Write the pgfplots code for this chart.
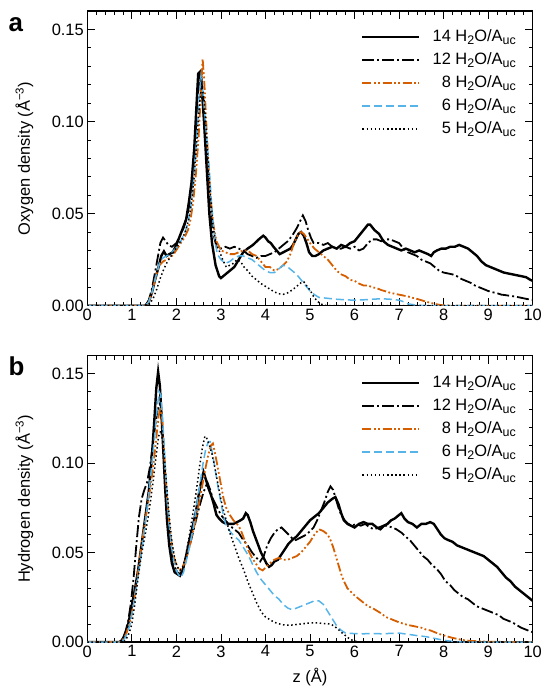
\documentclass[border=0pt]{standalone}
\usepackage{fontspec}
\setmainfont{Liberation Sans}
\usepackage{pgfplots}
\pgfplotsset{compat=1.18}
\definecolor{vermil}{RGB}{213,94,0}
\definecolor{skyb}{RGB}{86,180,233}

\newcommand{\sub}[1]{\raisebox{-3.8bp}{\fontsize{12.5}{12}\selectfont #1}}
\newcommand{\lbl}[1]{#1 H\sub{2}O/A\sub{uc}}
\newcommand{\fnt}{\fontsize{16.5}{19}\selectfont}

\pgfplotsset{
  dens/.style={
    scale only axis, width=445.4bp,
    xmin=0, xmax=10, ymin=0, ymax=0.16,
    xtick={0,...,10}, ytick={0,0.05,0.1,0.15},
    minor x tick num=4, minor y tick num=4,
    tick align=inside, major tick length=8bp, minor tick length=4bp,
    tick style={black, line width=0.8bp},
    axis line style={line width=1.3bp},
    scaled y ticks=false,
    /pgf/number format/assume math mode=true,
    y tick label style={/pgf/number format/fixed, /pgf/number format/fixed zerofill, /pgf/number format/precision=2},
    tick label style={font=\fnt},
    every axis y label/.style={at={(axis description cs:-0.1414,0.5)}, rotate=90, anchor=center, font=\fnt},
    every axis x label/.style={at={(axis description cs:0.5,-0.122)}, anchor=center, font=\fnt},
    legend cell align=right,
    legend style={draw=none, fill=none, anchor=north east, inner sep=0pt,
      font=\fnt, row sep=5bp, column sep=11bp,
      nodes={inner sep=1bp, text height=12bp, text depth=4bp}},
    legend image code/.code={\draw[#1] (0bp,0bp) -- (57bp,0bp);},
    c14/.style={black, line width=2.4bp},
    c12/.style={black, line width=1.8bp, dash pattern=on 12bp off 3bp on 2bp off 3bp},
    c8/.style={vermil, line width=1.8bp, dash pattern=on 9bp off 2.5bp on 1.8bp off 2.5bp on 1.8bp off 2.5bp},
    c6/.style={skyb, line width=1.5bp, dash pattern=on 8bp off 4bp},
    c5/.style={black, line width=1.5bp, dash pattern=on 1.5bp off 2.6bp},
  }
}

\begin{document}
\begin{tikzpicture}
\path[use as bounding box] (0,0) rectangle (543bp,-686bp);

% panel a: oxygen
\begin{axis}[dens, at={(87.3bp,-305.7bp)}, anchor=south west, height=294.7bp,
  ylabel={Oxygen density (Å\textsuperscript{−3})},
  legend style={at={(axis description cs:0.9647,0.94282)}}]
\addplot[c14] coordinates {
(0,0) (1.30,0) (1.38,0.002) (1.45,0.007) (1.52,0.014) (1.60,0.021) (1.66,0.027) (1.72,0.0295)
(1.78,0.027) (1.84,0.028) (1.92,0.029) (2.00,0.033) (2.08,0.038) (2.16,0.043) (2.22,0.047)
(2.28,0.056) (2.34,0.067) (2.40,0.085) (2.45,0.108) (2.49,0.126) (2.53,0.127) (2.57,0.118)
(2.62,0.100) (2.68,0.075) (2.74,0.050) (2.80,0.034) (2.88,0.022) (2.96,0.016) (3.00,0.015)
(3.10,0.017) (3.20,0.019) (3.30,0.021) (3.40,0.025) (3.50,0.029) (3.60,0.031) (3.72,0.033)
(3.85,0.036) (3.95,0.038) (4.00,0.037) (4.06,0.035) (4.12,0.034) (4.18,0.032) (4.25,0.030)
(4.32,0.028) (4.40,0.029) (4.48,0.030) (4.56,0.031) (4.62,0.033) (4.68,0.036) (4.74,0.039)
(4.80,0.040) (4.86,0.038) (4.92,0.034) (4.98,0.029) (5.05,0.027) (5.12,0.027) (5.20,0.028)
(5.30,0.030) (5.40,0.031) (5.50,0.032) (5.60,0.031) (5.70,0.033) (5.80,0.032) (5.90,0.034)
(6.00,0.035) (6.10,0.038) (6.20,0.041) (6.30,0.044) (6.35,0.044) (6.45,0.041) (6.55,0.039)
(6.65,0.035) (6.75,0.033) (6.85,0.032) (6.95,0.031) (7.05,0.030) (7.15,0.031) (7.25,0.030)
(7.35,0.029) (7.45,0.030) (7.55,0.029) (7.65,0.028) (7.72,0.027) (7.78,0.029) (7.85,0.030)
(7.95,0.031) (8.05,0.031) (8.15,0.032) (8.25,0.032) (8.35,0.033) (8.45,0.032) (8.55,0.031)
(8.65,0.029) (8.75,0.027) (8.85,0.024) (8.95,0.022) (9.05,0.021) (9.15,0.020) (9.25,0.019)
(9.35,0.018) (9.45,0.0175) (9.55,0.017) (9.65,0.0165) (9.75,0.016) (9.85,0.0155) (9.95,0.014)
(10.00,0.0135)
};
\addplot[c12] coordinates {
(0,0) (1.30,0) (1.38,0.003) (1.45,0.009) (1.52,0.018) (1.58,0.026) (1.64,0.034) (1.70,0.037)
(1.76,0.035) (1.82,0.033) (1.90,0.032) (2.00,0.034) (2.08,0.038) (2.16,0.042) (2.24,0.048)
(2.30,0.056) (2.36,0.068) (2.42,0.088) (2.47,0.110) (2.52,0.124) (2.56,0.125) (2.60,0.115)
(2.64,0.100) (2.68,0.085) (2.72,0.070) (2.76,0.055) (2.82,0.040) (2.90,0.032) (3.00,0.031)
(3.10,0.032) (3.20,0.031) (3.30,0.032) (3.40,0.031) (3.50,0.030) (3.60,0.028) (3.70,0.027)
(3.80,0.026) (3.90,0.027) (4.00,0.027) (4.10,0.028) (4.20,0.029) (4.30,0.031) (4.40,0.033)
(4.50,0.035) (4.60,0.038) (4.70,0.042) (4.78,0.046) (4.84,0.049) (4.90,0.046) (4.96,0.041)
(5.02,0.037) (5.08,0.034) (5.20,0.034) (5.30,0.033) (5.40,0.034) (5.50,0.032) (5.60,0.031)
(5.70,0.031) (5.80,0.032) (5.90,0.031) (6.00,0.032) (6.10,0.030) (6.20,0.031) (6.30,0.034)
(6.40,0.036) (6.50,0.036) (6.60,0.035) (6.70,0.036) (6.80,0.036) (6.90,0.035) (7.00,0.034)
(7.10,0.031) (7.20,0.029) (7.30,0.028) (7.40,0.027) (7.50,0.025) (7.60,0.024) (7.70,0.023)
(7.80,0.021) (7.90,0.019) (8.00,0.018) (8.10,0.0175) (8.20,0.017) (8.30,0.016) (8.40,0.0145)
(8.50,0.0135) (8.60,0.0125) (8.70,0.011) (8.80,0.010) (8.90,0.009) (9.00,0.008) (9.10,0.0073)
(9.20,0.0068) (9.30,0.006) (9.40,0.0057) (9.50,0.0053) (9.60,0.005) (9.70,0.0045) (9.80,0.004)
(9.90,0.0035) (10.00,0.0032)
};
\addplot[c8] coordinates {
(0,0) (1.30,0) (1.38,0.002) (1.46,0.008) (1.54,0.016) (1.62,0.022) (1.70,0.024) (1.78,0.025)
(1.86,0.026) (1.94,0.028) (2.02,0.031) (2.10,0.034) (2.18,0.037) (2.26,0.041) (2.32,0.047)
(2.38,0.057) (2.44,0.072) (2.50,0.092) (2.55,0.115) (2.59,0.134) (2.63,0.120) (2.67,0.100)
(2.72,0.077) (2.77,0.058) (2.83,0.044) (2.90,0.035) (3.00,0.030) (3.10,0.029) (3.20,0.028)
(3.30,0.028) (3.40,0.029) (3.50,0.030) (3.60,0.030) (3.70,0.028) (3.80,0.027) (3.90,0.024)
(4.00,0.021) (4.10,0.021) (4.20,0.019) (4.30,0.020) (4.40,0.022) (4.48,0.024) (4.56,0.028)
(4.64,0.034) (4.72,0.038) (4.80,0.040) (4.86,0.039) (4.92,0.037) (5.00,0.034) (5.10,0.031)
(5.20,0.029) (5.30,0.027) (5.40,0.025) (5.50,0.022) (5.60,0.019) (5.70,0.017) (5.80,0.016)
(5.90,0.014) (6.00,0.0135) (6.10,0.012) (6.20,0.011) (6.30,0.011) (6.40,0.010) (6.50,0.0095)
(6.60,0.0085) (6.70,0.0078) (6.80,0.007) (6.90,0.0065) (7.00,0.006) (7.10,0.0055) (7.20,0.005)
(7.30,0.0043) (7.40,0.0037) (7.50,0.003) (7.60,0.0022) (7.70,0.0016) (7.80,0.001) (7.90,0.0005)
(8.00,0.0002) (8.20,0) (10,0)
};
\addplot[c6] coordinates {
(0,0) (1.30,0) (1.38,0.002) (1.46,0.008) (1.54,0.016) (1.62,0.023) (1.70,0.026) (1.78,0.027)
(1.86,0.028) (1.94,0.030) (2.02,0.032) (2.10,0.035) (2.18,0.039) (2.26,0.045) (2.32,0.053)
(2.38,0.066) (2.44,0.085) (2.50,0.108) (2.55,0.124) (2.60,0.115) (2.65,0.100) (2.70,0.085)
(2.75,0.070) (2.80,0.052) (2.86,0.036) (2.92,0.028) (3.00,0.025) (3.10,0.023) (3.20,0.024)
(3.30,0.026) (3.40,0.027) (3.50,0.027) (3.60,0.026) (3.70,0.025) (3.80,0.023) (3.90,0.021)
(4.00,0.019) (4.10,0.018) (4.20,0.018) (4.30,0.020) (4.40,0.022) (4.50,0.021) (4.60,0.019)
(4.70,0.017) (4.80,0.014) (4.90,0.011) (5.00,0.008) (5.10,0.006) (5.20,0.0045) (5.40,0.004)
(5.60,0.0035) (5.80,0.0032) (6.00,0.003) (6.20,0.0032) (6.40,0.0035) (6.60,0.0038) (6.80,0.0035)
(7.00,0.003) (7.10,0.0022) (7.20,0.001) (7.40,0.0003) (7.60,0) (10,0)
};
\addplot[c5] coordinates {
(0,0) (1.32,0) (1.40,0.001) (1.48,0.004) (1.56,0.009) (1.64,0.015) (1.72,0.020) (1.80,0.024)
(1.88,0.027) (1.96,0.030) (2.04,0.033) (2.12,0.036) (2.20,0.040) (2.28,0.047) (2.34,0.056)
(2.40,0.070) (2.46,0.090) (2.52,0.110) (2.57,0.120) (2.62,0.112) (2.67,0.095) (2.72,0.075)
(2.77,0.058) (2.83,0.042) (2.90,0.033) (2.96,0.030) (3.04,0.025) (3.12,0.021) (3.20,0.022)
(3.28,0.023) (3.36,0.025) (3.44,0.024) (3.52,0.021) (3.60,0.019) (3.70,0.016) (3.80,0.014)
(3.90,0.012) (4.00,0.0105) (4.10,0.009) (4.20,0.0075) (4.30,0.0065) (4.40,0.0062) (4.50,0.007)
(4.60,0.0085) (4.70,0.0105) (4.80,0.0125) (4.86,0.013) (4.92,0.011) (5.00,0.0085) (5.08,0.005)
(5.16,0.0025) (5.24,0.001) (5.32,0.0002) (5.40,0) (10,0)
};
\legend{\lbl{14},\lbl{12},\lbl{8},\lbl{6},\lbl{5}}
\end{axis}

% panel b: hydrogen
\begin{axis}[dens, at={(87.3bp,-642bp)}, anchor=south west, height=286.3bp,
  ylabel={Hydrogen density (Å\textsuperscript{−3})}, xlabel={z (Å)},
  legend style={at={(axis description cs:0.9647,0.9366)}}]
\addplot[c14] coordinates {
(0,0) (0.72,0) (0.78,0.001) (0.84,0.004) (0.90,0.008) (0.96,0.015) (1.02,0.023) (1.08,0.031)
(1.14,0.040) (1.20,0.051) (1.26,0.062) (1.32,0.073) (1.38,0.084) (1.44,0.100) (1.50,0.122)
(1.55,0.142) (1.59,0.151) (1.63,0.143) (1.67,0.125) (1.71,0.105) (1.75,0.085) (1.79,0.068)
(1.84,0.054) (1.90,0.044) (1.96,0.039) (2.02,0.038) (2.08,0.037) (2.14,0.040) (2.20,0.046)
(2.26,0.053) (2.32,0.060) (2.38,0.066) (2.44,0.073) (2.50,0.082) (2.56,0.090) (2.61,0.095)
(2.66,0.091) (2.72,0.086) (2.78,0.082) (2.84,0.077) (2.90,0.071) (2.96,0.069) (3.04,0.067)
(3.12,0.066) (3.20,0.066) (3.28,0.066) (3.36,0.067) (3.44,0.068) (3.50,0.069) (3.56,0.072)
(3.60,0.071) (3.66,0.067) (3.72,0.062) (3.78,0.058) (3.84,0.054) (3.90,0.050) (3.96,0.047)
(4.02,0.044) (4.08,0.042) (4.14,0.043) (4.20,0.045) (4.28,0.046) (4.36,0.049) (4.44,0.052)
(4.52,0.055) (4.60,0.057) (4.70,0.059) (4.80,0.062) (4.90,0.065) (5.00,0.068) (5.10,0.070)
(5.20,0.072) (5.30,0.075) (5.40,0.078) (5.50,0.080) (5.57,0.081) (5.64,0.077) (5.70,0.072)
(5.76,0.068) (5.84,0.066) (5.92,0.065) (6.00,0.064) (6.10,0.066) (6.20,0.067) (6.30,0.066)
(6.40,0.066) (6.50,0.064) (6.58,0.063) (6.66,0.065) (6.74,0.066) (6.82,0.068) (6.90,0.069)
(7.00,0.071) (7.05,0.072) (7.12,0.069) (7.20,0.067) (7.30,0.066) (7.40,0.064) (7.50,0.066)
(7.60,0.066) (7.70,0.067) (7.78,0.066) (7.86,0.063) (7.94,0.060) (8.02,0.058) (8.10,0.057)
(8.20,0.056) (8.30,0.054) (8.40,0.053) (8.50,0.052) (8.60,0.051) (8.70,0.050) (8.80,0.049)
(8.90,0.048) (9.00,0.046) (9.10,0.044) (9.20,0.042) (9.30,0.039) (9.40,0.036) (9.50,0.034)
(9.60,0.031) (9.70,0.029) (9.80,0.027) (9.90,0.025) (10.00,0.023)
};
\addplot[c12] coordinates {
(0,0) (0.74,0) (0.80,0.002) (0.86,0.006) (0.92,0.012) (0.98,0.022) (1.04,0.036) (1.10,0.054)
(1.16,0.070) (1.22,0.080) (1.28,0.085) (1.34,0.089) (1.40,0.097) (1.46,0.108) (1.52,0.120)
(1.58,0.130) (1.63,0.133) (1.68,0.122) (1.72,0.105) (1.76,0.088) (1.80,0.072)
(1.85,0.058) (1.90,0.048) (1.96,0.042) (2.02,0.039) (2.08,0.038) (2.14,0.040) (2.20,0.045)
(2.28,0.052) (2.36,0.060) (2.44,0.068) (2.52,0.076) (2.60,0.083) (2.66,0.087) (2.70,0.089)
(2.76,0.085) (2.82,0.080) (2.90,0.076) (3.00,0.071) (3.10,0.068) (3.20,0.065) (3.30,0.063)
(3.40,0.061) (3.50,0.057) (3.60,0.054) (3.70,0.050) (3.80,0.047) (3.88,0.045) (3.96,0.048)
(4.04,0.054) (4.12,0.058) (4.20,0.061) (4.28,0.063) (4.36,0.064) (4.44,0.062) (4.52,0.060)
(4.60,0.058) (4.68,0.057) (4.76,0.058) (4.84,0.059) (4.92,0.060) (5.00,0.062) (5.08,0.064)
(5.16,0.068) (5.24,0.073) (5.32,0.078) (5.40,0.084) (5.46,0.087) (5.52,0.085) (5.58,0.080)
(5.64,0.075) (5.70,0.071) (5.78,0.068) (5.86,0.066) (5.94,0.065) (6.04,0.066) (6.14,0.065)
(6.24,0.066) (6.34,0.064) (6.44,0.063) (6.54,0.064) (6.64,0.065) (6.74,0.065) (6.84,0.064)
(6.94,0.063) (7.00,0.062) (7.06,0.061) (7.14,0.059) (7.24,0.057) (7.34,0.054) (7.44,0.051)
(7.54,0.048) (7.64,0.046) (7.74,0.043) (7.84,0.041) (7.94,0.038) (8.04,0.034) (8.14,0.032)
(8.24,0.029) (8.34,0.027) (8.44,0.025) (8.54,0.024) (8.64,0.022) (8.74,0.020) (8.84,0.019)
(8.94,0.018) (9.04,0.017) (9.14,0.016) (9.24,0.015) (9.34,0.013) (9.44,0.012) (9.54,0.011)
(9.64,0.0095) (9.74,0.008) (9.84,0.007) (9.94,0.006) (10.00,0.0055)
};
\addplot[c8] coordinates {
(0,0) (0.75,0) (0.82,0.002) (0.88,0.005) (0.94,0.010) (1.00,0.016) (1.06,0.025) (1.12,0.035)
(1.18,0.047) (1.24,0.058) (1.30,0.068) (1.36,0.077) (1.42,0.087) (1.48,0.098) (1.54,0.112)
(1.60,0.126) (1.64,0.131) (1.68,0.125) (1.72,0.108) (1.76,0.092) (1.80,0.078) (1.85,0.064)
(1.90,0.054) (1.96,0.046) (2.02,0.042) (2.08,0.040) (2.14,0.042) (2.20,0.045) (2.28,0.052)
(2.36,0.060) (2.44,0.069) (2.52,0.079) (2.60,0.090) (2.66,0.098) (2.72,0.105) (2.78,0.110)
(2.82,0.111) (2.88,0.104) (2.94,0.096) (3.00,0.088) (3.06,0.080) (3.12,0.075) (3.20,0.071)
(3.28,0.068) (3.36,0.066) (3.44,0.063) (3.50,0.059) (3.56,0.055) (3.62,0.051) (3.70,0.047)
(3.78,0.044) (3.86,0.041) (3.94,0.040) (4.02,0.042) (4.10,0.044) (4.20,0.046) (4.30,0.047)
(4.40,0.046) (4.50,0.046) (4.60,0.047) (4.70,0.048) (4.80,0.050) (4.90,0.053) (5.00,0.056)
(5.10,0.060) (5.20,0.063) (5.30,0.062) (5.40,0.060) (5.46,0.057) (5.52,0.053) (5.58,0.048)
(5.64,0.043) (5.70,0.038) (5.76,0.034) (5.84,0.030) (5.92,0.028) (6.00,0.026) (6.10,0.024)
(6.20,0.022) (6.30,0.020) (6.40,0.019) (6.50,0.0175) (6.60,0.016) (6.70,0.014) (6.80,0.013)
(6.90,0.012) (7.00,0.011) (7.10,0.0102) (7.20,0.0095) (7.30,0.009) (7.40,0.0085) (7.50,0.008)
(7.60,0.007) (7.70,0.0065) (7.80,0.0055) (7.90,0.0045) (8.00,0.0037) (8.10,0.003) (8.20,0.0023)
(8.30,0.0018) (8.40,0.0012) (8.50,0.0009) (8.60,0.0006) (8.80,0.0004) (9.00,0.0002) (9.40,0) (10,0)
};
\addplot[c6] coordinates {
(0,0) (0.78,0) (0.84,0.002) (0.90,0.005) (0.96,0.010) (1.02,0.018) (1.08,0.027) (1.14,0.037)
(1.20,0.047) (1.26,0.058) (1.32,0.070) (1.38,0.083) (1.44,0.097) (1.50,0.112) (1.56,0.128)
(1.61,0.140) (1.65,0.138) (1.69,0.125) (1.73,0.108) (1.77,0.090) (1.81,0.074) (1.86,0.060)
(1.92,0.048) (1.98,0.041) (2.04,0.038) (2.10,0.036) (2.16,0.039) (2.22,0.045) (2.30,0.054)
(2.38,0.064) (2.46,0.077) (2.54,0.090) (2.60,0.100) (2.66,0.108) (2.72,0.112) (2.76,0.112)
(2.82,0.104) (2.88,0.095) (2.94,0.086) (3.00,0.078) (3.06,0.070) (3.12,0.065) (3.20,0.062)
(3.30,0.059) (3.40,0.057) (3.50,0.053) (3.60,0.049) (3.70,0.044) (3.80,0.039) (3.90,0.035)
(4.00,0.032) (4.10,0.029) (4.20,0.026) (4.30,0.024) (4.40,0.021) (4.50,0.019) (4.60,0.018)
(4.70,0.019) (4.80,0.020) (4.90,0.021) (5.00,0.022) (5.10,0.023) (5.20,0.023) (5.30,0.021)
(5.40,0.017) (5.50,0.013) (5.60,0.009) (5.70,0.0065) (5.80,0.005) (6.00,0.0047) (6.20,0.0046)
(6.40,0.0047) (6.60,0.0046) (6.80,0.0048) (7.00,0.005) (7.20,0.0043) (7.40,0.0036) (7.60,0.003)
(7.80,0.002) (8.00,0.001) (8.20,0.0003) (8.40,0) (10,0)
};
\addplot[c5] coordinates {
(0,0) (0.82,0) (0.88,0.002) (0.94,0.005) (1.00,0.010) (1.06,0.020) (1.12,0.032) (1.18,0.043)
(1.24,0.052) (1.30,0.060) (1.36,0.069) (1.42,0.079) (1.48,0.090) (1.54,0.103) (1.60,0.115)
(1.65,0.118) (1.70,0.112) (1.74,0.100) (1.78,0.088) (1.84,0.070) (1.90,0.056) (1.96,0.047)
(2.02,0.042) (2.08,0.040) (2.14,0.042) (2.20,0.047) (2.28,0.058) (2.36,0.070) (2.44,0.083)
(2.52,0.098) (2.58,0.108) (2.64,0.115) (2.68,0.114) (2.74,0.110) (2.80,0.105) (2.86,0.098)
(2.92,0.090) (2.98,0.082) (3.04,0.075) (3.12,0.068) (3.20,0.061) (3.30,0.054) (3.40,0.047)
(3.50,0.041) (3.60,0.034) (3.70,0.028) (3.80,0.022) (3.90,0.017) (4.00,0.014) (4.10,0.0125)
(4.20,0.011) (4.30,0.0102) (4.40,0.0096) (4.50,0.0094) (4.60,0.0095) (4.70,0.0098) (4.80,0.0101)
(4.90,0.0104) (5.00,0.0106) (5.10,0.0107) (5.20,0.0106) (5.30,0.0103) (5.40,0.0103) (5.50,0.0095)
(5.60,0.0078) (5.70,0.0055) (5.80,0.0035) (5.90,0.0015) (6.00,0.0005) (6.10,0) (10,0)
};
\legend{\lbl{14},\lbl{12},\lbl{8},\lbl{6},\lbl{5}}
\end{axis}

\node[anchor=base west, inner sep=0pt, font=\bfseries\fontsize{26}{30}\selectfont] at (8.5bp,-31bp) {a};
\node[anchor=base west, inner sep=0pt, font=\bfseries\fontsize{26}{30}\selectfont] at (8.5bp,-375.5bp) {b};
\end{tikzpicture}
\end{document}
